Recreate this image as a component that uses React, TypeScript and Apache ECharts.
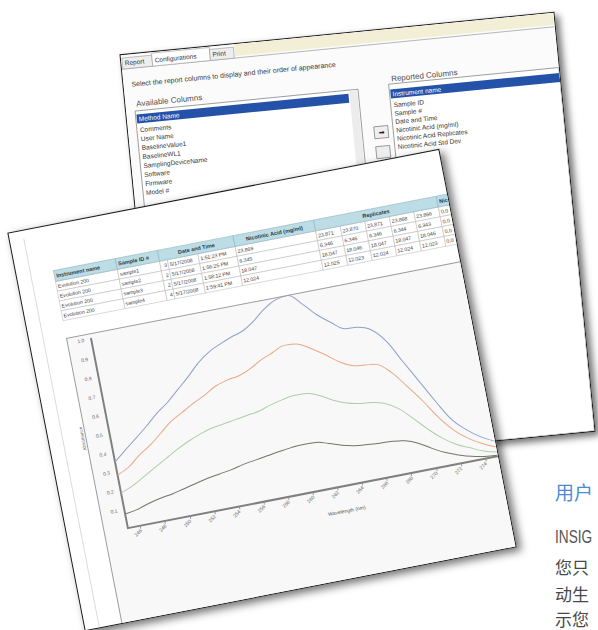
import React, { useEffect, useRef } from "react";
import * as echarts from "echarts";

// ---------------- data ----------------
const wavelengths = [
  "245", "246", "247", "248", "249", "250", "251", "252", "253", "254", "255",
  "256", "257", "258", "259", "260", "261", "262", "263", "264", "265", "266",
  "267", "268", "269", "270", "271", "272", "273", "274", "275",
];
const seriesNames = ["sample1", "sample2", "sample3", "sample4"];
const sample1Absorbance = [
  0.35, 0.4, 0.45, 0.5, 0.555, 0.6, 0.655, 0.71, 0.77, 0.815, 0.845, 0.87, 0.89,
  0.93, 0.98, 1.015, 1.025, 0.97, 0.9, 0.845, 0.8, 0.795, 0.77, 0.7, 0.58, 0.46,
  0.34, 0.23, 0.165, 0.115, 0.08,
];
const sample2Absorbance = [
  0.28, 0.31, 0.36, 0.4, 0.45, 0.5, 0.535, 0.57, 0.6, 0.635, 0.655, 0.665, 0.69,
  0.725, 0.75, 0.775, 0.77, 0.735, 0.69, 0.64, 0.605, 0.595, 0.585, 0.53, 0.445,
  0.355, 0.255, 0.175, 0.12, 0.08, 0.05,
];
const sample3Absorbance = [
  0.185, 0.21, 0.245, 0.28, 0.315, 0.35, 0.38, 0.405, 0.425, 0.435, 0.445, 0.455,
  0.465, 0.485, 0.5, 0.51, 0.508, 0.485, 0.448, 0.42, 0.405, 0.398, 0.38, 0.34,
  0.275, 0.205, 0.145, 0.1, 0.07, 0.04, 0.022,
];
const sample4Absorbance = [
  0.075, 0.085, 0.105, 0.12, 0.13, 0.145, 0.16, 0.175, 0.185, 0.195, 0.21, 0.22,
  0.23, 0.24, 0.248, 0.252, 0.25, 0.232, 0.21, 0.195, 0.188, 0.183, 0.18, 0.17,
  0.145, 0.105, 0.07, 0.045, 0.025, 0.012, 0.005,
];
const seriesColors = ["#8fa0c9", "#eaa684", "#aecea7", "#73736a"];

const tableHeaders = [
  "Instrument name", "Sample ID #", "Date and Time", "Nicotinic Acid (mg/ml)", "Replicates", "Nic",
];
const instrumentNames = ["Evolution 200", "Evolution 200", "Evolution 200", "Evolution 200"];
const sampleIds = ["sample1", "sample2", "sample3", "sample4"];
const sampleNumbers = ["3", "2", "2", "4"];
const sampleDates = ["5/17/2008", "5/17/2008", "5/17/2008", "5/17/2008"];
const sampleTimes = ["1:51:23 PM", "1:56:25 PM", "1:58:12 PM", "1:59:41 PM"];
const nicotinicValues = ["23.869", "6.345", "18.047", "12.024"];
const replicateValues = [
  ["23.871", "23.870", "23.871", "23.868", "23.866"],
  ["6.346", "6.346", "6.346", "6.344", "6.343"],
  ["18.047", "18.046", "18.047", "18.047", "18.046"],
  ["12.025", "12.023", "12.024", "12.024", "12.023"],
];
const stdDevValues = ["0.0", "0.0", "0.0", "0.0"];

const reportTabs = ["Report", "Configurations", "Print"];
const dialogInstruction = "Select the report columns to display and their order of appearance";
const availableTitle = "Available Columns";
const reportedTitle = "Reported Columns";
const availableColumns = [
  "Method Name", "Comments", "User Name", "BaselineValue1", "BaselineWL1",
  "SamplingDeviceName", "Software", "Firmware", "Model #",
];
const reportedColumns = [
  "Instrument name", "Sample ID", "Sample #", "Date and Time", "Nicotinic Acid (mg/ml)",
  "Nicotinic Acid Replicates", "Nicotinic Acid Std Dev",
];
const headingText = "用户";
const bodyLines = ["INSIG", "您只", "动生", "示您"];

// ---------------- helpers ----------------
const SMALL_FONT = "Liberation Sans, Arial, sans-serif";

function txt(x: number, y: number, text: string, size: number, fill: string, extra: any = {}) {
  return {
    type: "text",
    x,
    y,
    z: 30,
    silent: true,
    style: {
      text,
      fontSize: size,
      fontFamily: SMALL_FONT,
      fill,
      align: "left",
      verticalAlign: "middle",
      ...extra,
    },
  };
}

function box(x: number, y: number, w: number, h: number, fill: string, stroke?: string, lw = 0.6, z = 10) {
  return {
    type: "rect",
    z,
    silent: true,
    shape: { x, y, width: w, height: h },
    style: { fill, stroke: stroke || "none", lineWidth: stroke ? lw : 0 },
  };
}

// ---------------- front panel (table + spectrum) ----------------
function buildTable() {
  const colX = [37, 100, 143, 151, 182, 220, 302, 327, 352, 377, 402, 427, 470];
  const headerSpans = [[0, 1], [1, 2], [2, 5], [5, 6], [6, 11], [11, 12]];
  const headerTop = 45;
  const headerH = 11;
  const rowH = 10;
  const els: any[] = [];
  headerSpans.forEach((span, i) => {
    const x0 = colX[span[0]];
    const x1 = colX[span[1]];
    els.push(box(x0, headerTop, x1 - x0, headerH, "#bddde6", "#93b6c1", 0.6, 12));
    const centered = i >= 2 && i <= 4;
    els.push(
      txt(centered ? (x0 + x1) / 2 : x0 + 2, headerTop + headerH / 2, tableHeaders[i], 5.5, "#2a3a44", {
        align: centered ? "center" : "left",
        fontWeight: "bold",
      })
    );
  });
  for (let r = 0; r < 4; r++) {
    const y = headerTop + headerH + r * rowH;
    const cells = [
      instrumentNames[r], sampleIds[r], sampleNumbers[r], sampleDates[r], sampleTimes[r],
      nicotinicValues[r], ...replicateValues[r], stdDevValues[r],
    ];
    cells.forEach((c, ci) => {
      const x0 = colX[ci];
      const x1 = colX[ci + 1];
      els.push(box(x0, y, x1 - x0, rowH, "#ffffff", "#b8b8b8", 0.5, 11));
      const right = ci === 2;
      els.push(
        txt(right ? x1 - 1.5 : x0 + 1.5, y + rowH / 2, c, 5.2, "#3a3a3a", { align: right ? "right" : "left" })
      );
    });
  }
  return els;
}

const xLabelFilter = (index: number) => index % 2 === 1;

const frontOption: any = {
  animation: false,
  textStyle: { fontFamily: SMALL_FONT },
  grid: {
    left: 61,
    top: 119,
    width: 376.5,
    height: 193,
    containLabel: false,
    outerBoundsMode: "none",
    show: true,
    backgroundColor: "#f2f2f2",
    borderWidth: 0,
  },
  xAxis: {
    type: "category",
    data: wavelengths,
    boundaryGap: false,
    axisLine: { lineStyle: { color: "#808080", width: 2 } },
    axisTick: { show: true, interval: xLabelFilter, length: 3, lineStyle: { color: "#8a8a8a", width: 0.8 } },
    axisLabel: { interval: xLabelFilter, rotate: 35, fontSize: 5, color: "#6a6a6a", margin: 4 },
    splitLine: { show: false },
    name: "Wavelength (nm)",
    nameLocation: "middle",
    nameGap: 22,
    nameTextStyle: { fontSize: 5, color: "#5a5a5a", padding: [0, 0, 0, 60] },
  },
  yAxis: {
    type: "value",
    min: 0,
    max: 1,
    interval: 0.1,
    axisLine: { show: true, lineStyle: { color: "#808080", width: 2 } },
    axisTick: { show: false },
    splitLine: { show: false },
    axisLabel: {
      showMinLabel: false,
      fontSize: 5,
      color: "#6a6a6a",
      margin: 7,
      formatter: (v: number) => v.toFixed(1),
    },
    name: "Absorbance",
    nameLocation: "middle",
    nameGap: 18,
    nameTextStyle: { fontSize: 4.5, color: "#5a5a5a" },
  },
  series: [sample1Absorbance, sample2Absorbance, sample3Absorbance, sample4Absorbance].map((d, i) => ({
    name: seriesNames[i],
    type: "line",
    data: d,
    smooth: 0.4,
    symbol: "none",
    clip: false,
    z: 5,
    lineStyle: { width: 1, color: seriesColors[i] },
    itemStyle: { color: seriesColors[i] },
  })),
  graphic: [
    {
      type: "line",
      z: 1,
      silent: true,
      shape: { x1: 14, y1: 8, x2: 14, y2: 404 },
      style: { stroke: "#dcdcdc", lineWidth: 1 },
    },
    box(37, 114, 420, 300, "#f8f8f8", "#9c9c9c", 1, 0),
    ...buildTable(),
  ],
};

// ---------------- back panel (configuration dialog) ----------------
function buildDialog() {
  const els: any[] = [];
  els.push(box(0, 0, 435, 420, "#fbfbfb", undefined, 0, 0));
  els.push(box(114, 0, 321, 12, "#f2efd6", undefined, 0, 1));
  const tabX = [1, 31, 89];
  const tabW = [30, 58, 24];
  reportTabs.forEach((t, i) => {
    const active = i === 1;
    els.push(box(tabX[i], active ? 1 : 3, tabW[i], active ? 13 : 11, active ? "#ffffff" : "#eeeeee", "#9a9a9a", 0.6, 5));
    els.push(txt(tabX[i] + 2.5, 8, t, 6.5, "#333"));
  });
  els.push({
    type: "line",
    z: 4,
    silent: true,
    shape: { x1: 0, y1: 14, x2: 435, y2: 14 },
    style: { stroke: "#a8a8a8", lineWidth: 0.8 },
  });
  els.push(txt(8, 30, dialogInstruction, 7, "#3a3a3a"));
  els.push(txt(11, 50, availableTitle, 8, "#505050"));
  els.push(txt(267, 50, reportedTitle, 8, "#505050"));

  // left list
  els.push(box(9, 57, 224, 360, "#ffffff", "#8a8a8a", 0.8, 3));
  els.push(box(224, 58, 8, 358, "#ececec", undefined, 0, 4));
  els.push(box(10, 60.5, 213, 9, "#2552a9", undefined, 0, 5));
  availableColumns.forEach((c, i) => {
    const y = i === 0 ? 65 : 76 + (i - 1) * 9;
    els.push(txt(12, y, c, 6.5, i === 0 ? "#ffffff" : "#333333"));
  });

  // buttons
  els.push(box(245, 96, 14, 12, "#eeeeee", "#777777", 0.7, 5));
  els.push(txt(252, 102, "➡", 7, "#222", { align: "center" }));
  els.push(box(245, 116, 14, 12, "#eeeeee", "#777777", 0.7, 5));

  // right list
  els.push(box(264, 55, 171, 365, "#ffffff", "#8a8a8a", 0.8, 3));
  els.push(box(265, 60.5, 170, 9, "#2552a9", undefined, 0, 5));
  reportedColumns.forEach((c, i) => {
    const y = i === 0 ? 65 : 76 + (i - 1) * 8.4;
    els.push(txt(267, y, c, 6.5, i === 0 ? "#ffffff" : "#333333"));
  });
  return els;
}

const backOption: any = {
  animation: false,
  graphic: buildDialog(),
};

// ---------------- page text ----------------
const bodyLineY = [67, 96, 123, 148];
const pageOption: any = {
  animation: false,
  graphic: [
    {
      type: "text",
      x: 15,
      y: 21,
      silent: true,
      style: {
        text: headingText,
        fontSize: 19,
        fontFamily: "Noto Sans CJK SC",
        fill: "#4a8bd4",
        align: "left",
        verticalAlign: "middle",
      },
    },
    ...bodyLines.map((t, i) => ({
      type: "text",
      x: 15,
      y: bodyLineY[i],
      scaleX: i === 0 ? 0.76 : 1,
      silent: true,
      style: {
        text: t,
        fontSize: i === 0 ? 18 : 17,
        fontFamily: i === 0 ? "Liberation Sans, sans-serif" : "Noto Sans CJK SC",
        fill: i === 0 ? "#555555" : "#484848",
        align: "left",
        verticalAlign: "middle",
      },
    })),
  ],
};

// ---------------- components ----------------
function EChartBox({ option, width, height }: { option: any; width: number; height: number }) {
  const ref = useRef<HTMLDivElement>(null);
  useEffect(() => {
    if (!ref.current) return;
    const chart = echarts.init(ref.current, undefined, { renderer: "svg", width, height });
    chart.setOption(option);
    return () => chart.dispose();
  }, [option, width, height]);
  return <div ref={ref} style={{ width, height }} />;
}

export default function App() {
  return (
    <div
      style={{
        position: "fixed",
        left: 0,
        top: 0,
        width: 598,
        height: 630,
        overflow: "hidden",
        background: "#ffffff",
      }}
    >
      <div
        style={{
          position: "absolute",
          left: 139,
          top: 31.5,
          width: 437,
          height: 422,
          transform: "rotate(-5.6deg)",
          border: "1px solid #1a1a1a",
          boxSizing: "border-box",
          background: "#ffffff",
          boxShadow: "4px 4px 7px rgba(0,0,0,0.55)",
          overflow: "hidden",
        }}
      >
        <EChartBox option={backOption} width={435} height={420} />
      </div>
      <div
        style={{
          position: "absolute",
          left: 41.5,
          top: 186.5,
          width: 440,
          height: 406,
          transform: "rotate(-11deg)",
          border: "1px solid #1a1a1a",
          boxSizing: "border-box",
          background: "#ffffff",
          boxShadow: "4px 4px 8px rgba(0,0,0,0.55)",
          overflow: "hidden",
        }}
      >
        <EChartBox option={frontOption} width={438} height={404} />
      </div>
      <div style={{ position: "absolute", left: 540, top: 470, width: 58, height: 160, overflow: "hidden" }}>
        <EChartBox option={pageOption} width={58} height={160} />
      </div>
    </div>
  );
}
